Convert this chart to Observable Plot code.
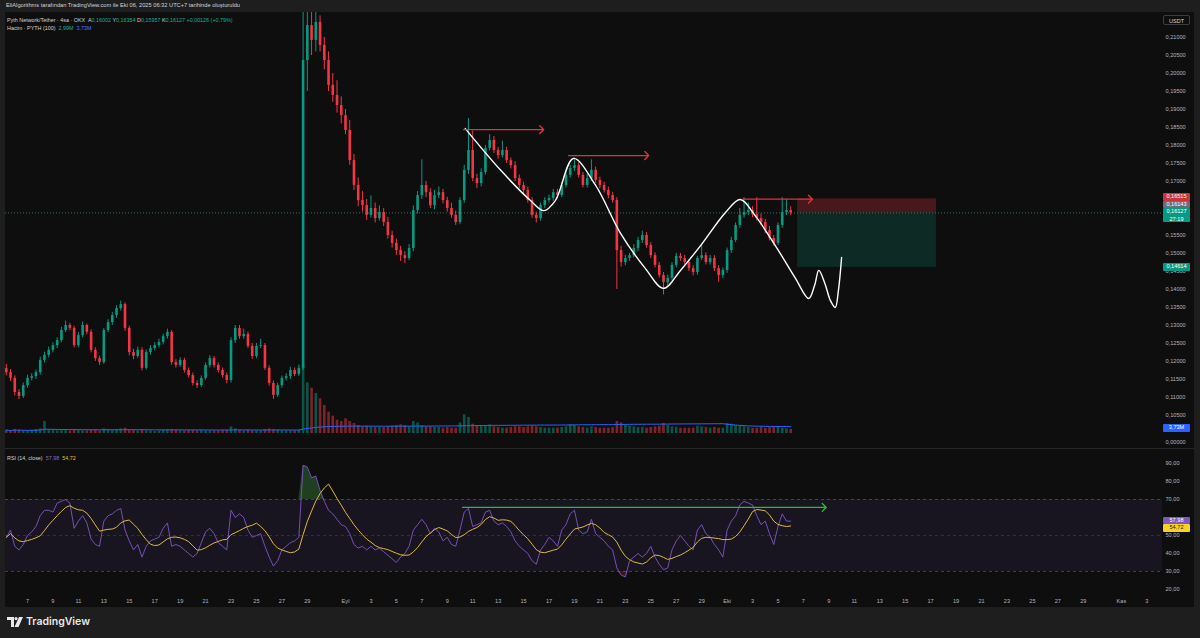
<!DOCTYPE html>
<html><head><meta charset="utf-8">
<script src="https://cdn.jsdelivr.net/npm/d3@7"></script>
<script src="https://cdn.jsdelivr.net/npm/@observablehq/plot@0.6"></script>
<style>
body{margin:0;background:#1e1e1e;width:1200px;height:638px;overflow:hidden;position:relative;font-family:"Liberation Sans",Arial,sans-serif;}
#chart{position:absolute;left:5px;top:12px;width:1189px;height:595px;background:#0e0e0e;overflow:hidden;}
.abs{position:absolute;}
.plabel{position:absolute;left:1158px;width:27px;font-size:5.6px;line-height:7.5px;text-align:center;border-radius:1px;color:#fff;}
.leg{position:absolute;left:2px;font-size:5.4px;color:#d1d4dc;white-space:pre;}
#hdr{position:absolute;left:6px;top:2px;font-size:5.7px;color:#d1d4dc;white-space:pre;}
#footer{position:absolute;left:7px;top:615px;display:flex;align-items:center;gap:3px;color:#e8e8e8;font-family:Inter,"Liberation Sans",sans-serif;font-weight:600;font-size:10.5px;}
</style></head><body>
<div id="hdr">EliAlgorithms tarafından TradingView.com ile Eki 06, 2025 06:32 UTC+7 tarihinde oluşturuldu</div>
<div id="chart"></div>
<div id="footer"><svg width="16" height="10" viewBox="0 0 16 10"><path d="M0 0h7v10H4V3H0z" fill="#e8e8e8"/><circle cx="9" cy="1.6" r="1.6" fill="#e8e8e8"/><path d="M12 0h4l-4.5 10H7.5z" fill="#e8e8e8"/></svg><span>TradingView</span></div>
<script>
// ---------- DATA ----------
const candleStart = "2025-08-05T08:00Z";
const candleHours = 8;
const firstOpen = 0.1180;
const closes = [
0.1169,0.1153,0.1114,0.1103,0.1133,0.1153,0.1158,0.1169,0.1203,0.1217,
0.1231,0.1244,0.1258,0.1286,0.1300,0.1292,0.1244,0.1272,0.1300,0.1281,
0.1231,0.1208,0.1197,0.1286,0.1308,0.1328,0.1347,0.1358,0.1292,0.1225,
0.1214,0.1231,0.1181,0.1225,0.1236,0.1244,0.1253,0.1269,0.1281,0.1197,
0.1189,0.1203,0.1175,0.1161,0.1139,0.1133,0.1153,0.1189,0.1208,0.1189,
0.1175,0.1161,0.1147,0.1258,0.1292,0.1269,0.1275,0.1242,0.1214,0.1242,
0.1244,0.1181,0.1139,0.1106,0.1133,0.1153,0.1158,0.1175,0.1164,0.1181,
0.2036,0.2133,0.2092,0.2142,0.2078,0.2036,0.1967,0.1939,0.1911,0.1883,
0.1842,0.1758,0.1689,0.1647,0.1633,0.1606,0.1625,0.1597,0.1614,0.1586,
0.1550,0.1528,0.1508,0.1494,0.1486,0.1514,0.1619,0.1661,0.1689,0.1669,
0.1633,0.1661,0.1669,0.1647,0.1625,0.1606,0.1586,0.1647,0.1731,0.1786,
0.1708,0.1694,0.1725,0.1792,0.1814,0.1786,0.1772,0.1786,0.1758,0.1744,
0.1708,0.1689,0.1675,0.1647,0.1606,0.1597,0.1633,0.1647,0.1653,0.1669,
0.1661,0.1689,0.1717,0.1736,0.1744,0.1717,0.1689,0.1708,0.1731,0.1703,
0.1689,0.1675,0.1661,0.1647,0.1508,0.1475,0.1486,0.1494,0.1514,0.1536,
0.1550,0.1522,0.1494,0.1467,0.1439,0.1419,0.1431,0.1467,0.1492,0.1486,
0.1475,0.1458,0.1447,0.1486,0.1494,0.1475,0.1486,0.1458,0.1439,0.1453,
0.1508,0.1536,0.1578,0.1606,0.1614,0.1619,0.1608,0.1597,0.1586,0.1564,
0.1542,0.1528,0.1578,0.1614,0.1619,0.16127];
const highs = [
0.1192,0.1178,0.1160,0.1122,0.1140,0.1162,0.1166,0.1176,0.1212,0.1226,
0.1240,0.1252,0.1266,0.1295,0.1312,0.1306,0.1298,0.1280,0.1310,0.1304,
0.1288,0.1238,0.1215,0.1292,0.1316,0.1336,0.1355,0.1368,0.1363,0.1298,
0.1234,0.1240,0.1238,0.1232,0.1244,0.1252,0.1262,0.1276,0.1290,0.1286,
0.1205,0.1210,0.1209,0.1182,0.1168,0.1146,0.1160,0.1196,0.1216,0.1214,
0.1196,0.1182,0.1168,0.1266,0.1300,0.1300,0.1290,0.1282,0.1250,0.1250,
0.1262,0.1250,0.1188,0.1146,0.1140,0.1160,0.1166,0.1184,0.1182,0.1190,
0.2300,0.2250,0.2200,0.2220,0.2160,0.2100,0.2060,0.2000,0.1980,0.1935,
0.1900,0.1870,0.1775,0.1710,0.1672,0.1650,0.1660,0.1640,0.1632,0.1625,
0.1600,0.1562,0.1540,0.1520,0.1505,0.1525,0.1632,0.1672,0.1760,0.1700,
0.1680,0.1675,0.1685,0.1678,0.1656,0.1640,0.1618,0.1655,0.1745,0.1875,
0.1840,0.1720,0.1735,0.1800,0.1830,0.1825,0.1795,0.1812,0.1795,0.1765,
0.1755,0.1718,0.1698,0.1684,0.1655,0.1615,0.1640,0.1655,0.1662,0.1678,
0.1678,0.1698,0.1725,0.1745,0.1765,0.1752,0.1725,0.1720,0.1760,0.1740,
0.1712,0.1698,0.1684,0.1670,0.1655,0.1520,0.1495,0.1500,0.1525,0.1545,
0.1562,0.1558,0.1530,0.1502,0.1475,0.1447,0.1440,0.1475,0.1500,0.1500,
0.1495,0.1482,0.1466,0.1492,0.1525,0.1502,0.1495,0.1494,0.1466,0.1460,
0.1515,0.1545,0.1585,0.1625,0.1655,0.1640,0.1630,0.1655,0.1610,0.1595,
0.1575,0.1550,0.1585,0.1655,0.1650,0.1630];
const lows = [
0.1160,0.1145,0.1104,0.1094,0.1097,0.1126,0.1146,0.1150,0.1162,0.1196,
0.1210,0.1224,0.1236,0.1252,0.1280,0.1285,0.1238,0.1238,0.1266,0.1274,
0.1224,0.1200,0.1189,0.1192,0.1280,0.1300,0.1320,0.1340,0.1284,0.1216,
0.1205,0.1208,0.1174,0.1176,0.1218,0.1230,0.1238,0.1246,0.1262,0.1190,
0.1182,0.1184,0.1168,0.1154,0.1132,0.1125,0.1128,0.1148,0.1182,0.1182,
0.1168,0.1154,0.1138,0.1140,0.1250,0.1262,0.1262,0.1236,0.1206,0.1208,
0.1236,0.1175,0.1132,0.1095,0.1100,0.1126,0.1146,0.1150,0.1158,0.1158,
0.1175,0.1950,0.2050,0.2060,0.2060,0.2010,0.1950,0.1920,0.1890,0.1860,
0.1830,0.1745,0.1675,0.1630,0.1615,0.1592,0.1598,0.1585,0.1590,0.1575,
0.1540,0.1515,0.1495,0.1478,0.1472,0.1480,0.1505,0.1610,0.1650,0.1655,
0.1625,0.1622,0.1652,0.1638,0.1615,0.1598,0.1578,0.1580,0.1640,0.1720,
0.1700,0.1680,0.1685,0.1718,0.1785,0.1778,0.1762,0.1765,0.1750,0.1735,
0.1700,0.1680,0.1665,0.1640,0.1598,0.1585,0.1590,0.1625,0.1640,0.1645,
0.1652,0.1655,0.1682,0.1710,0.1728,0.1710,0.1682,0.1682,0.1700,0.1695,
0.1680,0.1668,0.1652,0.1640,0.1400,0.1462,0.1466,0.1478,0.1488,0.1505,
0.1528,0.1515,0.1486,0.1460,0.1432,0.1385,0.1410,0.1425,0.1460,0.1478,
0.1468,0.1450,0.1438,0.1440,0.1480,0.1468,0.1468,0.1450,0.1420,0.1430,
0.1445,0.1500,0.1530,0.1570,0.1598,0.1605,0.1600,0.1590,0.1578,0.1555,
0.1535,0.1520,0.1522,0.1570,0.1605,0.1605];
// volume (millions)
const volumes = [
2.5,2,3,2.5,2,2,2.5,3,3.5,9,
3,2.5,2,2.5,3,2,3,2.5,2,2,
2.5,3,2,3.5,3,2.5,3,3.5,4,2.5,
2.5,2,3,2,2,1.5,2,2.5,3,3,
2.5,2,2,2.5,2.5,2,2.5,2,2,2,
2,2.5,2.5,5,3.5,2.5,2,2.5,2,2,
2,3,3.5,3,2.5,2,2,2,2,2.5,
51,38,34,30,26,21,16,13,10,9,
11,9,7.5,6,5,5.5,5,4.5,5,4.5,
5,5.5,6,6.5,6,5,9,8,6,5,
5,4.5,4.5,4,4.5,4,4,8,14,12,
7,6,5.5,6,6.5,5,4.5,4,4,4.5,
5,5,4.5,5,5.5,5,4.5,4,4,4,
4,4.5,5,6.5,6,5,4.5,4,5,4.5,
4,4,4,4.5,9,8,6.5,5.5,5,4.5,
4.5,4,4.5,5,5.5,7.5,6,5,4.5,4,
4,4,4,5.5,5,4.5,4,4.5,4,4,
7.5,7,6,5.5,5,4.5,4,4,4.5,4,
4.5,5,4.5,4,3.5,3];
const rsi = [
49,53,44,42,45,50,52,55,61,64,
64,63,68,69,70,68,54,58,61,57,
48,45,44,58,61,62,64,65,53,47,
42,45,38,44,47,48,49,54,57,44,
45,44,42,40,38,40,46,52,54,51,
46,44,42,64,60,62,60,53,49,50,
51,44,38,33,36,42,44,46,47,49,
89,88,82,83,75,69,64,62,59,56,
55,51,45,43,44,42,44,42,43,41,
39,37,35,38,40,44,53,56,59,56,
51,54,52,47,49,45,44,53,63,65,
55,56,57,63,64,58,56,57,55,52,
47,44,42,40,36,34,42,45,49,47,
44,53,56,62,64,53,51,52,59,51,
49,47,44,42,32,28,27,36,38,40,
38,40,44,38,34,31,32,42,47,50,
47,44,42,53,56,51,49,45,42,38,
53,58,61,67,69,68,67,61,56,58,
51,45,55,62,58,57.98];
const rsiMaLast = 54.72;
const volumeLast = 2.99, volumeMaLast = 3.73;
const legendKeys = ["A","Y","D","K"];
const legendValues = [0.16002,0.16354,0.15957,0.16127];
const changeAbs = 0.00126, changePct = 0.79;
const countdown = "27:19";
const prevCloseMark = 0.16143;

// tick values hidden behind the value labels (0,16000 0,16500 60,00) are left out, as in the reference
const priceTicks = [0.105,0.11,0.115,0.12,0.125,0.13,0.135,0.14,0.145,0.15,0.155,0.17,0.175,0.18,0.185,0.19,0.195,0.2,0.205,0.21];
const rsiTicks = [20,30,40,50,70,80,90];
const rsiLevels = [70,50,30];
const tickDates = ["2025-08-07","2025-08-09","2025-08-11","2025-08-13","2025-08-15","2025-08-17","2025-08-19","2025-08-21","2025-08-23","2025-08-25","2025-08-27","2025-08-29",
"2025-09-01","2025-09-03","2025-09-05","2025-09-07","2025-09-09","2025-09-11","2025-09-13","2025-09-15","2025-09-17","2025-09-19","2025-09-21","2025-09-23","2025-09-25","2025-09-27","2025-09-29",
"2025-10-01","2025-10-03","2025-10-05","2025-10-07","2025-10-09","2025-10-11","2025-10-13","2025-10-15","2025-10-17","2025-10-19","2025-10-21","2025-10-23","2025-10-25","2025-10-27","2025-10-29",
"2025-11-01","2025-11-03"];
const tickLabels = ["7","9","11","13","15","17","19","21","23","25","27","29",
"Eyl","3","5","7","9","11","13","15","17","19","21","23","25","27","29",
"Eki","3","5","7","9","11","13","15","17","19","21","23","25","27","29",
"Kas","3"];

// drawings
const positionStart = "2025-10-06T13:00Z", positionEnd = "2025-10-17T11:00Z";
const entryPrice = 0.16127, stopPrice = 0.16515, targetPrice = 0.14614;
const arrowStart = ["2025-09-10T07:00Z","2025-09-18T13:00Z","2025-10-02T05:00Z"];
const arrowEnd = ["2025-09-16T14:00Z","2025-09-24T20:00Z","2025-10-07T17:00Z"];
const arrowPrice = [0.1844,0.1772,0.1651];
const pathTimes = ["2025-09-10T10:00Z","2025-09-13T05:00Z","2025-09-15T13:00Z","2025-09-16T14:00Z","2025-09-17T12:00Z","2025-09-18T22:00Z","2025-09-20T16:00Z","2025-09-22T15:00Z","2025-09-24T14:00Z","2025-09-26T00:00Z","2025-09-27T08:00Z","2025-09-28T22:00Z","2025-09-30T21:00Z","2025-10-02T01:00Z","2025-10-03T06:00Z","2025-10-04T19:00Z","2025-10-06T09:00Z","2025-10-07T10:00Z","2025-10-07T21:00Z","2025-10-08T05:00Z","2025-10-08T16:00Z","2025-10-09T03:00Z","2025-10-09T12:00Z","2025-10-09T18:00Z","2025-10-10T00:00Z"];
const pathPrices = [0.1847,0.1731,0.1647,0.1619,0.1647,0.1764,0.1689,0.1556,0.1458,0.1403,0.1453,0.1522,0.1614,0.1650,0.1603,0.1522,0.1431,0.1375,0.1411,0.1453,0.1419,0.1369,0.1350,0.1397,0.1489];
const rsiArrowStart = "2025-09-10T05:00Z", rsiArrowEnd = "2025-10-08T19:00Z", rsiArrowLevel = 65.6;

const xDomain = ["2025-08-05T06:30Z","2025-11-04T05:30Z"];
const priceDomain = [0.095833,0.216944];
const rsiDomain = [19.44,97.78];
const volumeDomain = [0,75];

// ---------- BUILD ----------
const UP = "#089981", DOWN = "#f23645";
const t0 = Date.parse(candleStart);
const candles = closes.map((c,i)=>({
  t:new Date(t0 + i*candleHours*3600e3), o: i ? closes[i-1] : firstOpen, c, h:highs[i], l:lows[i], v:volumes[i], r:rsi[i]
}));
const xd = xDomain.map(s=>new Date(s));
const fmtP = v => d3.format(".5f")(v).replace(".", ",");
const fmt2 = v => d3.format(".2f")(v).replace(".", ",");
const labelMap = new Map(tickDates.map((d,i)=>[+new Date(d+"T00:00Z"), tickLabels[i]]));
const font = '"Liberation Sans", Arial, sans-serif';
const baseStyle = {background:"transparent", color:"#b2b5be", fontFamily:font, fontSize:"5.6px", overflow:"visible"};
const common = {width:1189, marginLeft:0, marginRight:32, marginTop:0, color:{type:"identity"}};
const chart = document.getElementById("chart");

const arrows = arrowStart.map((s,i)=>({x1:new Date(s), x2:new Date(arrowEnd[i]), y:arrowPrice[i]}));
const path = pathTimes.map((s,i)=>({t:new Date(s), p:pathPrices[i]}));
const boxes = [
  {y1:entryPrice, y2:stopPrice, fill:DOWN, o:0.26},
  {y1:targetPrice, y2:entryPrice, fill:UP, o:0.2}
];

const price = Plot.plot({
  ...common, height:436, marginBottom:0, style:{...baseStyle},
  x:{type:"utc", domain:xd, axis:null, label:null},
  y:{domain:priceDomain, axis:null, label:null},
  marks:[
    Plot.rect(boxes,{x1:()=>new Date(positionStart), x2:()=>new Date(positionEnd), y1:"y1", y2:"y2", fill:"fill", fillOpacity:"o"}),
    Plot.ruleY([entryPrice],{stroke:"#3f8f82", strokeDasharray:"1,2", strokeWidth:0.8}),
    Plot.ruleX(candles,{x:"t", y1:"l", y2:"h", stroke:d=>d.c>=d.o?UP:DOWN, strokeWidth:1, clip:true}),
    Plot.ruleX(candles,{x:"t", y1:"o", y2:"c", stroke:d=>d.c>=d.o?UP:DOWN, strokeWidth:2.6, clip:true}),
    Plot.line(path,{x:"t", y:"p", curve:"catmull-rom", stroke:"#ffffff", strokeWidth:1.4}),
    Plot.arrow(arrows,{x1:"x1", x2:"x2", y1:"y", y2:"y", stroke:"#e0323f", strokeWidth:1.4, headLength:6, headAngle:90}),
    Plot.axisY({anchor:"right", label:null, ticks:priceTicks, tickSize:0, tickPadding:3, tickFormat:fmtP, textAnchor:"start"})
  ]
});
price.style.position="absolute"; price.style.left="0px"; price.style.top="0px";
chart.appendChild(price);

const vol = Plot.plot({
  ...common, height:112, marginBottom:12, style:{...baseStyle},
  x:{type:"utc", domain:xd, axis:null, label:null},
  y:{domain:volumeDomain, axis:null, label:null},
  marks:[
    Plot.ruleX(candles,{x:"t", y1:0, y2:"v", stroke:d=>d.c>=d.o?UP:DOWN, strokeOpacity:0.5, strokeWidth:2.6}),
    Plot.line(candles, Plot.windowY({k:100, anchor:"end", reduce:"mean"}, {x:"t", y:"v", stroke:"#2962ff", strokeWidth:1})),
    Plot.axisY({anchor:"right", label:null, ticks:[0], tickSize:0, tickPadding:3, tickFormat:()=>fmtP(0), dy:9, textAnchor:"start"})
  ]
});
vol.style.position="absolute"; vol.style.left="0px"; vol.style.top="321px";
chart.appendChild(vol);

const rsiPlot = Plot.plot({
  ...common, height:158, marginBottom:17, style:{...baseStyle},
  x:{type:"utc", domain:xd, label:null},
  y:{domain:rsiDomain, axis:null, label:null},
  marks:[
    Plot.rect([{}],{x1:()=>xd[0], x2:()=>xd[1], y1:30, y2:70, fill:"#7e57c2", fillOpacity:0.1}),
    Plot.ruleY(rsiLevels,{stroke:"#787b86", strokeDasharray:"3,3", strokeOpacity:d=>d===50?0.35:0.6, strokeWidth:0.8}),
    Plot.areaY(candles,{x:"t", y1:70, y2:d=>Math.max(70,d.r), fill:"#4caf50", fillOpacity:0.3}),
    Plot.areaY(candles,{x:"t", y1:d=>Math.min(30,d.r), y2:30, fill:"#f23645", fillOpacity:0.2}),
    Plot.line(candles,{x:"t", y:"r", stroke:"#7e57c2", strokeWidth:0.9}),
    Plot.line(candles, Plot.windowY({k:7, anchor:"end", reduce:"mean"}, {x:"t", y:"r", stroke:"#e0b83a", strokeWidth:1})),
    Plot.arrow([{}],{x1:()=>new Date(rsiArrowStart), x2:()=>new Date(rsiArrowEnd), y1:rsiArrowLevel, y2:rsiArrowLevel, stroke:"#22c32a", strokeWidth:1.4, headLength:6, headAngle:90}),
    Plot.axisY({anchor:"right", label:null, ticks:rsiTicks, tickSize:0, tickPadding:3, tickFormat:fmt2, textAnchor:"start"}),
    Plot.axisX({label:null, ticks:tickDates.map(d=>new Date(d+"T00:00Z")), tickSize:0, tickPadding:9, tickFormat:d=>labelMap.get(+d)})
  ]
});
rsiPlot.style.position="absolute"; rsiPlot.style.left="0px"; rsiPlot.style.top="437px";
chart.appendChild(rsiPlot);

// separator
const sep = document.createElement("div");
sep.className="abs"; sep.style.cssText="left:0;top:436px;width:1189px;height:1px;background:#262626;";
chart.appendChild(sep);

// ---------- axis value labels ----------
function placeLabels(items, dir){
  items.sort((a,b)=>a.top-b.top);
  if(dir==="up"){ for(let i=items.length-2;i>=0;i--){ if(items[i].top+items[i].h>items[i+1].top) items[i].top=items[i+1].top-items[i].h; } }
  else { for(let i=1;i<items.length;i++){ if(items[i].top<items[i-1].top+items[i-1].h) items[i].top=items[i-1].top+items[i-1].h; } }
  for(const it of items){
    const d=document.createElement("div"); d.className="plabel";
    d.style.top=it.top+"px"; d.style.height=it.h+"px"; d.style.background=it.bg; d.style.color=it.fg||"#fff";
    d.innerHTML=it.text; chart.appendChild(d);
  }
}
const ys = price.scale("y");
placeLabels([
  {top:ys.apply(stopPrice)-3.75, h:7.5, bg:"#c9343f", text:fmtP(stopPrice)},
  {top:ys.apply(prevCloseMark)-3.75, h:7.5, bg:"#6a6d78", text:fmtP(prevCloseMark)},
  {top:ys.apply(entryPrice)-4, h:14, bg:"#089981", text:fmtP(entryPrice)+"<br>"+countdown},
  {top:ys.apply(targetPrice)-3.75, h:7.5, bg:"#089981", text:fmtP(targetPrice)}
],"up");
const vs = vol.scale("y");
placeLabels([{top:321+vs.apply(volumeMaLast)-3.75, h:7.5, bg:"#2962ff", text:d3.format(".2f")(volumeMaLast).replace(".",",")+"M"}],"up");
const rs = rsiPlot.scale("y");
placeLabels([
  {top:437+rs.apply(rsi[rsi.length-1])-3.75, h:7.5, bg:"#7e57c2", text:fmt2(rsi[rsi.length-1])},
  {top:437+rs.apply(rsiMaLast)-3.75, h:7.5, bg:"#f5d423", fg:"#1a1a1a", text:fmt2(rsiMaLast)}
],"down");

// USDT box
const usdt=document.createElement("div");
usdt.className="abs";
usdt.style.cssText="left:1158px;top:3px;width:27px;height:10px;border:1px solid #3a3d45;border-radius:2px;color:#d1d4dc;font-size:5.6px;line-height:10px;text-align:center;box-sizing:border-box;";
usdt.textContent="USDT"; chart.appendChild(usdt);

// legends
const g = s=>`<span style="color:#22ab94">${s}</span>`;
const l1=document.createElement("div"); l1.className="leg"; l1.style.top="5px";
l1.innerHTML="Pyth Network/Tether · 4sa · OKX  "+legendKeys.map((k,i)=>k+g(fmtP(legendValues[i]))).join(" ")+" "+g("+"+fmtP(changeAbs)+" (+"+d3.format(".2f")(changePct).replace(".",",")+"%)");
chart.appendChild(l1);
const l2=document.createElement("div"); l2.className="leg"; l2.style.top="13px";
l2.innerHTML="Hacim · PYTH (100)  "+g(d3.format(".2f")(volumeLast).replace(".",",")+"M")+"  "+`<span style="color:#4d74ff">${d3.format(".2f")(volumeMaLast).replace(".",",")}M</span>`;
chart.appendChild(l2);
const l3=document.createElement("div"); l3.className="leg"; l3.style.top="443px";
l3.innerHTML="RSI (14, close)  "+`<span style="color:#8a68d0">${fmt2(rsi[rsi.length-1])}</span>  <span style="color:#e6c22e">${fmt2(rsiMaLast)}</span>`;
chart.appendChild(l3);
</script>
</body></html>
